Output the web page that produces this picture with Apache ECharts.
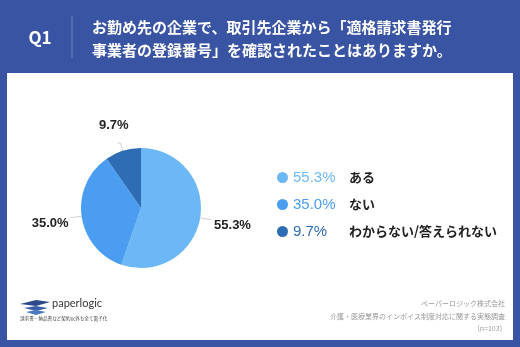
<!DOCTYPE html>
<html>
<head>
<meta charset="utf-8">
<script src="https://cdn.jsdelivr.net/npm/echarts@6/dist/echarts.min.js"></script>
<style>
  html, body { margin: 0; padding: 0; background: #3a54a4; }
  #chart { width: 520px; height: 347px; }
</style>
</head>
<body>
<div id="chart"></div>
<script>
// Survey answers and their shares (%)
const categories = ['ある', 'ない', 'わからない/答えられない'];
const shares = [55.3, 35.0, 9.7];
const sliceColors = ['#6cb8f6', '#4a9df0', '#2e6db3'];

const questionNo = 'Q1';
const questionLines = ['お勤め先の企業で、取引先企業から「適格請求書発行', '事業者の登録番号」を確認されたことはありますか。'];
const sourceLines = ['ペーパーロジック株式会社', '介護・医療業界のインボイス制度対応に関する実態調査', '(n=103)'];

const JP = '"Noto Sans CJK JP", "Noto Sans", sans-serif';
const chart = echarts.init(document.getElementById('chart'));

const rich = { n: { fontFamily: JP, fontWeight: 'bold', fontSize: 13, color: '#222' } };
sliceColors.forEach((c, i) => {
  rich['p' + i] = { fontFamily: '"Liberation Sans", Arial, sans-serif', fontSize: 15, color: c, width: 56 };
});

// nudges for the outside value labels, per slice
const labelShift = [[-2, 6], [3, 6], [16, -18]];

chart.setOption({
  backgroundColor: '#3a54a4',
  animation: false,
  graphic: [
    { type: 'rect', shape: { x: 7, y: 73, width: 506, height: 267 }, style: { fill: '#ffffff' } },
    { type: 'text', x: 40, y: 38, style: { text: questionNo, fill: '#fff', font: 'bold 17px ' + JP, align: 'center', verticalAlign: 'middle' } },
    { type: 'line', shape: { x1: 72, y1: 16, x2: 72, y2: 58 }, style: { stroke: '#6f86c4', lineWidth: 1 } },
    { type: 'text', x: 92, y: 27, style: { text: questionLines[0], fill: '#fff', font: 'bold 15px ' + JP, verticalAlign: 'middle' } },
    { type: 'text', x: 92, y: 50, style: { text: questionLines[1], fill: '#fff', font: 'bold 15px ' + JP, verticalAlign: 'middle' } },
    // company mark
    { type: 'polygon', shape: { points: [[20, 304], [36, 300], [50, 302], [36, 306]] }, style: { fill: '#2c4a8a' } },
    { type: 'polygon', shape: { points: [[24, 308], [36, 306], [48, 308], [36, 311]] }, style: { fill: '#3a5fa8' } },
    { type: 'polygon', shape: { points: [[26, 312], [36, 310], [46, 312], [36, 315]] }, style: { fill: '#4a78c0' } },
    { type: 'text', x: 52, y: 303, style: { text: 'paperlogic', fill: '#333', font: '11px Lato, "Noto Sans", sans-serif', verticalAlign: 'middle' } },
    { type: 'text', x: 20, y: 318, style: { text: '請求書・納品書など契約以外も全て電子化', fill: '#444', font: '4.6px ' + JP, verticalAlign: 'middle' } },
    { type: 'text', x: 505, y: 303, style: { text: sourceLines[0], fill: '#999', font: '7px ' + JP, align: 'right', verticalAlign: 'middle' } },
    { type: 'text', x: 505, y: 316, style: { text: sourceLines[1], fill: '#999', font: '7px ' + JP, align: 'right', verticalAlign: 'middle' } },
    { type: 'text', x: 502, y: 328, style: { text: sourceLines[2], fill: '#999', font: '7px ' + JP, align: 'right', verticalAlign: 'middle' } }
  ],
  legend: {
    orient: 'vertical',
    left: 272,
    top: 165,
    icon: 'circle',
    itemWidth: 11,
    itemHeight: 11,
    itemGap: 12,
    data: categories,
    formatter: name => {
      const i = categories.indexOf(name);
      return '{p' + i + '|' + shares[i].toFixed(1) + '%}{n|' + name + '}';
    },
    textStyle: { rich: rich }
  },
  series: [{
    type: 'pie',
    center: [141, 208],
    radius: [0, 60],
    startAngle: 90,
    clockwise: true,
    color: sliceColors,
    data: categories.map((c, i) => ({ name: c, value: shares[i] })),
    label: {
      formatter: p => p.value.toFixed(1) + '%',
      fontFamily: '"Liberation Sans", Arial, sans-serif',
      fontWeight: 'bold',
      fontSize: 13,
      color: '#222'
    },
    labelLine: { length: 8, length2: 3, lineStyle: { color: '#d0d0d0', width: 1 } },
    labelLayout: p => ({ dx: labelShift[p.dataIndex][0], dy: labelShift[p.dataIndex][1] })
  }]
});
</script>
</body>
</html>
